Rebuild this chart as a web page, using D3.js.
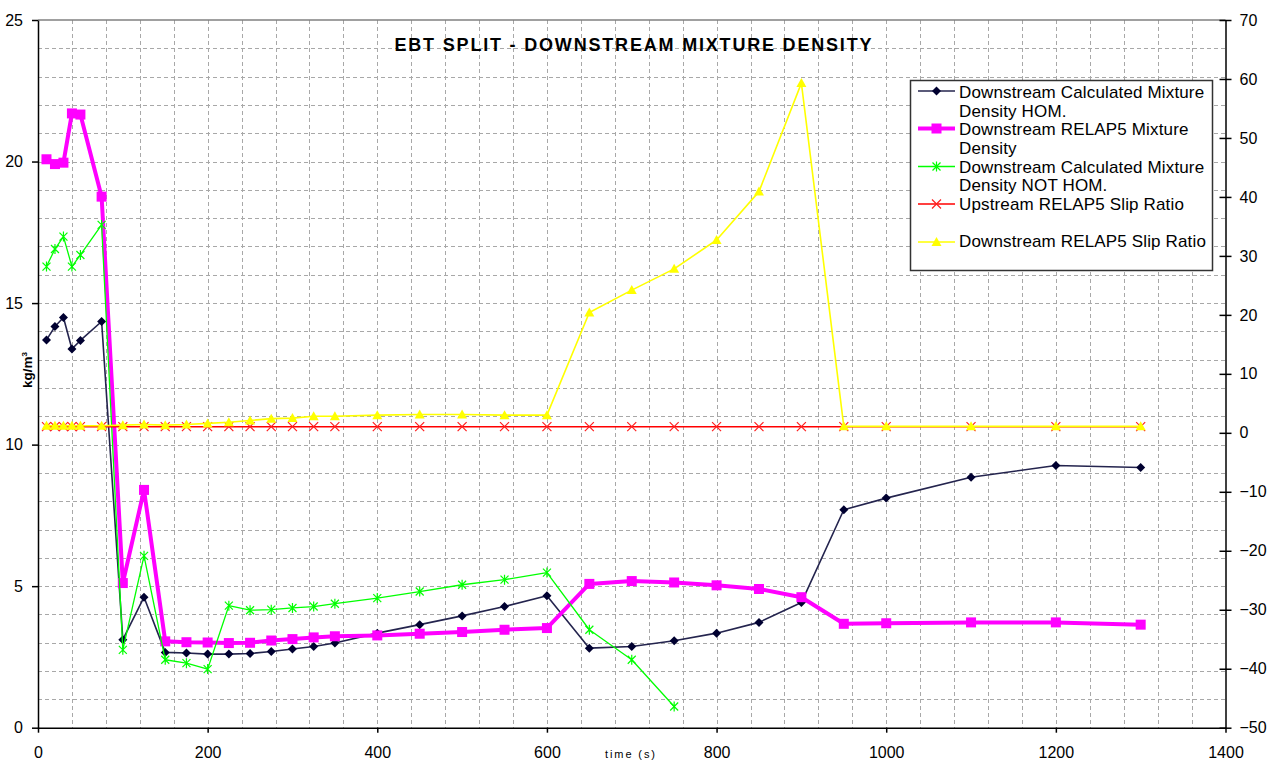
<!DOCTYPE html>
<html>
<head>
<meta charset="utf-8">
<script src="https://cdn.jsdelivr.net/npm/d3@7"></script>
<style>
  html, body { margin: 0; padding: 0; background: #fff; }
  svg { display: block; font-family: "Liberation Sans", Arial, sans-serif; }
</style>
</head>
<body>
<svg id="chart" width="1270" height="762"></svg>
<script>
// Sample times (s)
const times = [10, 20, 30, 40, 50, 75, 100, 125, 150, 175, 200, 225, 250, 275, 300, 325, 350,
  400, 450, 500, 550, 600, 650, 700, 750, 800, 850, 900, 950, 1000, 1100, 1200, 1300];

// Downstream calculated mixture density, homogeneous model (kg/m3)
const densHom = [13.70, 14.17, 14.49, 13.38, 13.68, 14.35, 3.11, 4.61, 2.66, 2.64, 2.60, 2.60, 2.62,
  2.69, 2.78, 2.87, 2.99, 3.34, 3.64, 3.95, 4.28, 4.66, 2.81, 2.87, 3.07, 3.34, 3.72, 4.42,
  7.70, 8.11, 8.85, 9.26, 9.19];

// Downstream RELAP5 mixture density (kg/m3)
const densRelap = [20.08, 19.91, 19.96, 21.70, 21.66, 18.76, 5.11, 8.40, 3.05, 3.02, 3.01, 2.99, 3.00,
  3.08, 3.13, 3.19, 3.23, 3.26, 3.32, 3.38, 3.46, 3.52, 5.08, 5.18, 5.13, 5.03, 4.90, 4.61,
  3.67, 3.69, 3.72, 3.72, 3.64];

// Downstream calculated mixture density, non-homogeneous model (kg/m3)
const timesNotHom = [10, 20, 30, 40, 50, 75, 100, 125, 150, 175, 200, 225, 250, 275, 300, 325, 350,
  400, 450, 500, 550, 600, 650, 700, 750];
const densNotHom = [16.29, 16.91, 17.35, 16.29, 16.70, 17.76, 2.75, 6.07, 2.40, 2.28, 2.07, 4.31, 4.15,
  4.17, 4.23, 4.28, 4.38, 4.58, 4.81, 5.05, 5.23, 5.48, 3.46, 2.40, 0.75];

// Slip ratios (right axis)
const slipUp = [1.05, 1.05, 1.05, 1.05, 1.05, 1.05, 1.05, 1.05, 1.05, 1.05, 1.05, 1.05, 1.05,
  1.05, 1.05, 1.05, 1.05, 1.05, 1.05, 1.05, 1.05, 1.05, 1.05, 1.05, 1.05, 1.05, 1.05, 1.05,
  1.05, 1.05, 1.05, 1.05, 1.05];
const slipDown = [1.2, 1.2, 1.2, 1.2, 1.2, 1.2, 1.3, 1.4, 1.3, 1.4, 1.6, 1.8, 2.1, 2.4, 2.5, 2.8, 2.8,
  3.0, 3.1, 3.1, 3.0, 3.0, 20.4, 24.2, 27.8, 32.7, 40.9, 59.3, 1.1, 1.1, 1.1, 1.1, 1.1];

// Axis ticks
const xTicks = [0, 200, 400, 600, 800, 1000, 1200, 1400];
const yLeftTicks = [0, 5, 10, 15, 20, 25];
const yRightTicks = [-50, -40, -30, -20, -10, 0, 10, 20, 30, 40, 50, 60, 70];

const titleText = "EBT SPLIT - DOWNSTREAM MIXTURE DENSITY";
const legendLabels = [
  ["Downstream Calculated Mixture", "Density HOM."],
  ["Downstream RELAP5 Mixture", "Density"],
  ["Downstream Calculated Mixture", "Density NOT HOM."],
  ["Upstream RELAP5 Slip Ratio"],
  ["Downstream RELAP5 Slip Ratio"]
];

const svg = d3.select("#chart");
const x = d3.scaleLinear().domain([0, 1400]).range([38, 1225.5]);
const yL = d3.scaleLinear().domain([0, 25]).range([727.7, 20]);
const yR = d3.scaleLinear().domain([-50, 70]).range([727.7, 20]);

// Grid
const grid = svg.append("g").attr("stroke", "#a8a8a8").attr("stroke-width", 1)
  .attr("stroke-dasharray", "4,3").attr("shape-rendering", "crispEdges");
d3.range(40, 1400, 40).forEach(v => {
  grid.append("line").attr("x1", Math.round(x(v)) + 0.5).attr("x2", Math.round(x(v)) + 0.5)
    .attr("y1", yL(25)).attr("y2", yL(0));
});
d3.range(1, 25, 1).forEach(v => {
  grid.append("line").attr("x1", x(0)).attr("x2", x(1400))
    .attr("y1", Math.round(yL(v)) + 0.5).attr("y2", Math.round(yL(v)) + 0.5);
});
// Top frame
svg.append("line").attr("x1", x(0)).attr("x2", x(1400)).attr("y1", yL(25)).attr("y2", yL(25))
  .attr("stroke", "#808080").attr("stroke-width", 1.5);

// Axes
const axFont = g => g.selectAll("text").attr("font-size", 16)
  .attr("font-family", "'Liberation Sans', Arial, sans-serif").attr("fill", "#000");

const gx = svg.append("g").attr("transform", `translate(0,${yL(0)})`)
  .call(d3.axisBottom(x).tickValues(xTicks).tickSize(5).tickSizeOuter(0).tickPadding(14).tickFormat(d3.format("d")));
gx.select(".domain").attr("stroke", "#000").attr("stroke-width", 1.5);
gx.selectAll(".tick line").attr("stroke", "#000").attr("stroke-width", 1.5);
axFont(gx);

const gyl = svg.append("g").attr("transform", `translate(${x(0)},0)`)
  .call(d3.axisLeft(yL).tickValues(yLeftTicks).tickSize(6).tickSizeOuter(0).tickPadding(9));
gyl.select(".domain").attr("stroke", "#000").attr("stroke-width", 1.5);
gyl.selectAll(".tick line").attr("stroke", "#000").attr("stroke-width", 1.5);
axFont(gyl);

const gyr = svg.append("g").attr("transform", `translate(${x(1400)},0)`)
  .call(d3.axisRight(yR).tickValues(yRightTicks).tickSize(6).tickSizeOuter(0).tickPadding(8));
gyr.select(".domain").attr("stroke", "#000").attr("stroke-width", 1.5);
gyr.selectAll(".tick line").attr("stroke", "#000").attr("stroke-width", 1.5).attr("x1", -6);
axFont(gyr);

// Title and axis labels
svg.append("text").attr("x", 633).attr("y", 51).attr("text-anchor", "middle")
  .attr("font-size", 18).attr("font-weight", "bold").attr("textLength", 477)
  .attr("lengthAdjust", "spacing").text(titleText);

const yLab = svg.append("text").attr("transform", "translate(32,370) rotate(-90)")
  .attr("text-anchor", "middle").attr("font-size", 13.5).attr("font-weight", "bold");
yLab.append("tspan").text("kg/m");
yLab.append("tspan").attr("font-size", 8).attr("dy", -5).text("3");

svg.append("text").attr("x", 605).attr("y", 758).attr("font-size", 11)
  .attr("textLength", 50).attr("lengthAdjust", "spacing").text("time (s)");

// Marker shapes
const markers = {
  diamond: (g, color) => g.append("path").attr("d", "M0,-4.5L4.5,0L0,4.5L-4.5,0Z").attr("fill", color),
  square: (g, color) => g.append("rect").attr("x", -5).attr("y", -5).attr("width", 10).attr("height", 10).attr("fill", color),
  asterisk: (g, color) => g.append("path").attr("d", "M-4,-4L4,4M-4,4L4,-4M0,-5L0,5")
    .attr("stroke", color).attr("stroke-width", 1.2).attr("fill", "none"),
  cross: (g, color) => g.append("path").attr("d", "M-4.5,-4.5L4.5,4.5M-4.5,4.5L4.5,-4.5")
    .attr("stroke", color).attr("stroke-width", 1.2).attr("fill", "none"),
  triangle: (g, color) => g.append("path").attr("d", "M0,-5L5,4L-5,4Z").attr("fill", color)
};

const series = [
  { t: times, v: densHom, y: yL, line: "#24244e", width: 1.6, marker: "diamond", mcolor: "#000030" },
  { t: times, v: densRelap, y: yL, line: "#ff00ff", width: 4, marker: "square", mcolor: "#ff00ff" },
  { t: timesNotHom, v: densNotHom, y: yL, line: "#00ff00", width: 1.3, marker: "asterisk", mcolor: "#00ff00" },
  { t: times, v: slipUp, y: yR, line: "#ff0000", width: 1.5, marker: "cross", mcolor: "#ff2020" },
  { t: times, v: slipDown, y: yR, line: "#ffff00", width: 1.6, marker: "triangle", mcolor: "#ffff00" }
];

series.forEach(s => {
  const pts = s.t.map((t, i) => [t, s.v[i]]);
  const g = svg.append("g");
  g.append("path").datum(pts)
    .attr("d", d3.line().x(d => x(d[0])).y(d => s.y(d[1])))
    .attr("fill", "none").attr("stroke", s.line).attr("stroke-width", s.width)
    .attr("stroke-linejoin", "round");
  pts.forEach(d => {
    const m = g.append("g").attr("transform", `translate(${x(d[0])},${s.y(d[1])})`);
    markers[s.marker](m, s.mcolor);
  });
});

// Legend
const lg = svg.append("g");
lg.append("rect").attr("x", 910.5).attr("y", 80.5).attr("width", 302).attr("height", 190)
  .attr("fill", "#fff").attr("stroke", "#333").attr("stroke-width", 1.5);
const symY = [91, 128.5, 166.5, 204, 242];
const textY = [[97.7, 116.7], [135, 153.5], [172.7, 191], [210], [247]];
series.forEach((s, i) => {
  lg.append("line").attr("x1", 918).attr("x2", 955).attr("y1", symY[i]).attr("y2", symY[i])
    .attr("stroke", s.line).attr("stroke-width", s.width);
  const m = lg.append("g").attr("transform", `translate(936.5,${symY[i]})`);
  markers[s.marker](m, s.mcolor);
  legendLabels[i].forEach((txt, j) => {
    lg.append("text").attr("x", 959).attr("y", textY[i][j]).attr("font-size", 17)
      .attr("letter-spacing", 0.15).text(txt);
  });
});
</script>
</body>
</html>
